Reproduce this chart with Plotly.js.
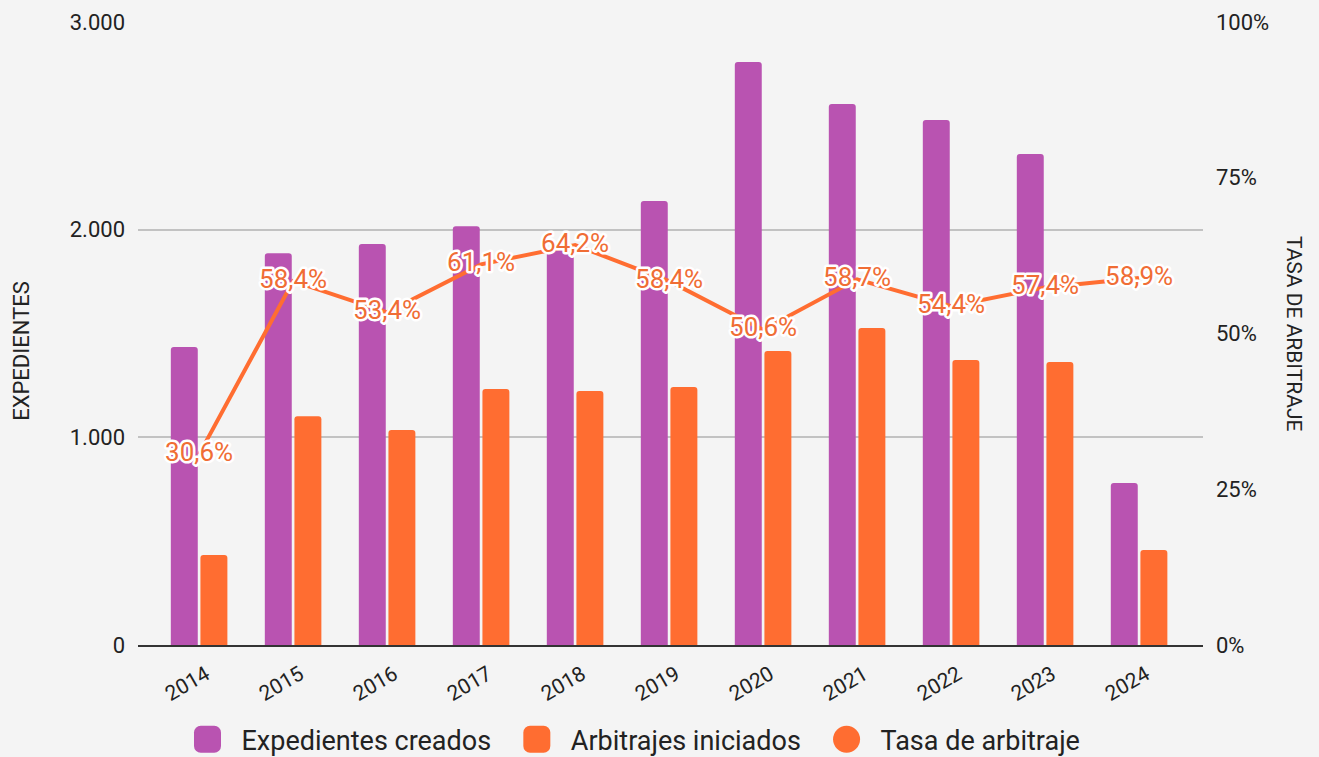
<!DOCTYPE html>
<html>
<head>
<meta charset="utf-8">
<script src="https://cdn.plot.ly/plotly-3.0.1.min.js"></script>
<style>
html,body{margin:0;padding:0;background:#f4f4f4;}
#chart{width:1319px;height:757px;}
#chart .textpoint text{paint-order:stroke;stroke:#ffffff;stroke-width:5px;stroke-linejoin:round;}
</style>
</head>
<body>
<div id="chart"></div>
<script>
const years = ["2014","2015","2016","2017","2018","2019","2020","2021","2022","2023","2024"];
const expedientes = [1435, 1887, 1931, 2017, 1905, 2138, 2807, 2605, 2528, 2364, 780];
const arbitrajes = [433, 1102, 1035, 1233, 1223, 1242, 1416, 1526, 1372, 1363, 457];
const tasa = [30.6, 58.4, 53.4, 61.1, 64.2, 58.4, 50.6, 58.7, 54.4, 57.4, 58.9];
const pctTicks = [0, 25, 50, 75, 100];
const expTicks = [0, 1000, 2000, 3000];
const seriesNames = ["Expedientes creados", "Arbitrajes iniciados", "Tasa de arbitraje"];

const purple = "#b953b1";
const orange = "#ff6d31";
const labelFont = "Roboto, 'Noto Sans', sans-serif";
const pad = "\u00a0";

const traces = [
  {type:"bar", name:seriesNames[0] + pad, x:years, y:expedientes,
   marker:{color:purple, cornerradius:3, line:{width:0}}, hoverinfo:"none"},
  {type:"bar", name:seriesNames[1] + pad, x:years, y:arbitrajes,
   marker:{color:orange, cornerradius:3, line:{width:0}}, hoverinfo:"none"},
  {type:"scatter", mode:"lines+text", name:seriesNames[2], x:years, y:tasa, yaxis:"y2",
   line:{color:orange, width:4}, showlegend:false,
   texttemplate:"%{y:.1f}%", textposition:"middle center",
   textfont:{family:labelFont, size:26, color:"#f06d35"},
   cliponaxis:false, hoverinfo:"none"},
  {type:"scatter", mode:"markers", name:seriesNames[2], x:[years[0]], y:[null], yaxis:"y2",
   marker:{color:orange, size:12, symbol:"circle"}, hoverinfo:"none"}
];

const layout = {
  width:1319, height:757,
  paper_bgcolor:"#f4f4f4", plot_bgcolor:"#f4f4f4",
  margin:{l:138, r:116, t:22, b:112, autoexpand:false},
  separators:",.",
  barmode:"group", bargap:0.37, bargroupgap:0.09,
  font:{family:labelFont, color:"#222", size:22},
  showlegend:true,
  legend:{orientation:"h", x:0.4615, xanchor:"center", y:-0.152, yanchor:"middle",
    font:{size:27, color:"#222"}, itemsizing:"constant", itemwidth:58, bgcolor:"rgba(0,0,0,0)"},
  xaxis:{type:"category", range:[-0.65, 10.68], tickangle:-30, showgrid:false, automargin:false,
    ticks:"", ticklabelstandoff:7, ticklabelshift:7, tickfont:{size:21, color:"#222"},
    showline:true, linecolor:"#333", linewidth:2},
  yaxis:{range:[0,3000], tickmode:"array", tickvals:expTicks, separatethousands:true, tickformat:",d",
    showgrid:true, gridcolor:"#c2c2c2", gridwidth:2, zeroline:false, ticks:"", automargin:false,
    ticklabelstandoff:12, tickfont:{size:22, color:"#222"}},
  yaxis2:{range:[0,100], overlaying:"y", side:"right", tickmode:"array", tickvals:pctTicks,
    ticktext:pctTicks.map(v => v + "%"), automargin:false,
    showgrid:false, zeroline:false, ticks:"", ticklabelstandoff:12, tickfont:{size:22, color:"#222"}},
  annotations:[
    {text:"EXPEDIENTES", xref:"paper", yref:"paper", x:-0.109, y:0.472, xanchor:"center", yanchor:"middle",
     textangle:-90, showarrow:false, font:{size:22, color:"#222"}},
    {text:"TASA DE ARBITRAJE", xref:"paper", yref:"paper", x:1.086, y:0.5, xanchor:"center", yanchor:"middle",
     textangle:90, showarrow:false, font:{size:21, color:"#222"}}
  ]
};

Plotly.newPlot("chart", traces, layout, {displayModeBar:false, staticPlot:true}).then(gd => {
  gd.querySelectorAll(".legend .legendpoints path").forEach(p => {
    const t = p.getAttribute("transform") || "";
    p.setAttribute("transform", t + " scale(2.25)");
  });
});
</script>
</body>
</html>
